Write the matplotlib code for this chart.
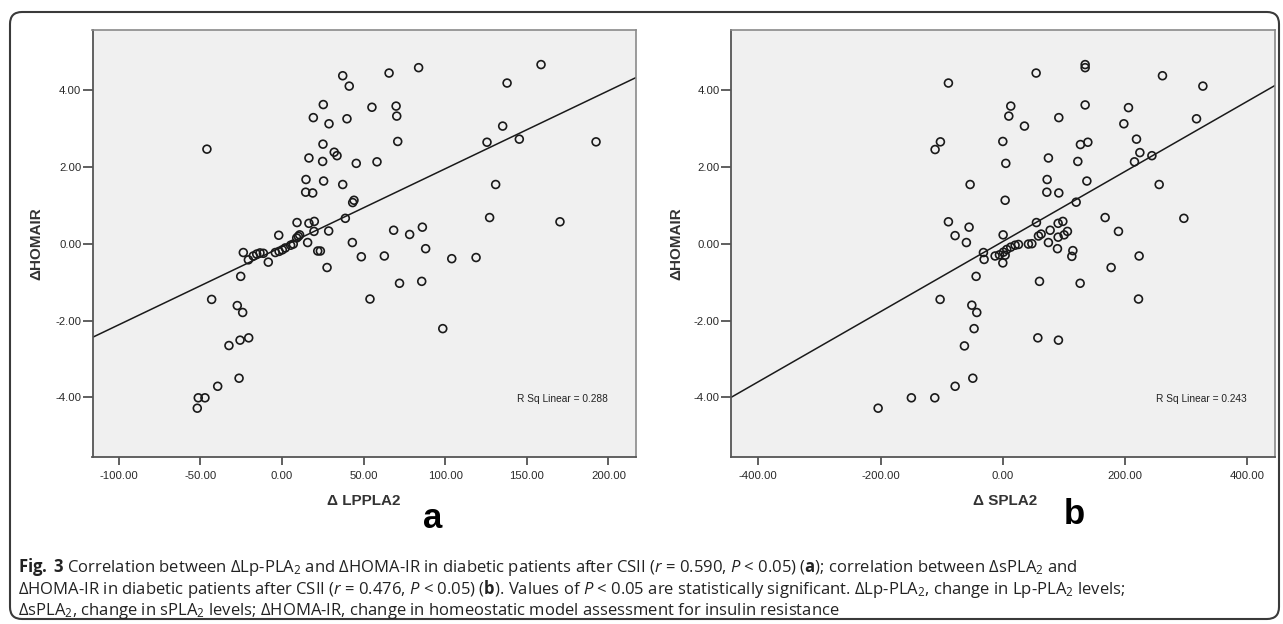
import matplotlib
matplotlib.use("Agg")
import matplotlib.pyplot as plt
from matplotlib.patches import FancyBboxPatch

plt.rcParams['font.family'] = ['Liberation Sans', 'DejaVu Sans']
plt.rcParams['axes.unicode_minus'] = False
plt.rcParams['mathtext.fontset'] = 'custom'
plt.rcParams['mathtext.rm'] = 'Open Sans'
plt.rcParams['mathtext.it'] = 'Open Sans:italic'
plt.rcParams['mathtext.bf'] = 'Open Sans:bold'

# panel a: change in Lp-PLA2 vs change in HOMA-IR
lp_x = [-46, 37.2, 41.2, 65.6, 25.3, 19.2, 28.8, 39.8, 55.1, 69.9, 70.3, 70.9, 25.1, 32.0, 33.7,
        16.5, 24.9, 45.5, 58.2, 14.7, 25.5, 37.2, 14.5, 18.8, 43.3, 44.1, 38.8, 9.2, 16.5, 19.8,
        19.6, 28.6, 68.4, -2.0, 10.8, 10.0, 9.0, 6.9, 5.3, 2.0, 0.2, -1.8, -4.1, 15.7, 21.9,
        23.5, 43.1, 48.6, 62.7, 27.6, -8.4, -23.7, -20.6, -17.6, -15.5, -13.5, -11.4, -25.3, 72.0,
        -43.1, -27.4, -24.1, 53.9, -20.4, -25.7, -32.5, -26.3, -39.4, -51.3, -47.2, -51.9, 83.7,
        158.7, 137.9, 135.2, 125.6, 145.4, 192.4, 130.9, 127.2, 170.3, 78.2, 86.0, 88.0, 104.0,
        118.9, 85.6, 98.5]
lp_y = [2.46, 4.37, 4.10, 4.44, 3.62, 3.28, 3.12, 3.25, 3.55, 3.58, 3.32, 2.66, 2.59, 2.38, 2.29,
        2.23, 2.14, 2.09, 2.13, 1.67, 1.63, 1.54, 1.34, 1.32, 1.07, 1.13, 0.66, 0.55, 0.53, 0.58,
        0.32, 0.33, 0.35, 0.22, 0.23, 0.19, 0.15, -0.01, -0.04, -0.11, -0.16, -0.20, -0.23, 0.03, -0.19,
        -0.19, 0.03, -0.34, -0.32, -0.62, -0.48, -0.23, -0.42, -0.32, -0.27, -0.24, -0.25, -0.85, -1.03,
        -1.45, -1.61, -1.79, -1.44, -2.45, -2.51, -2.65, -3.50, -3.71, -4.01, -4.01, -4.28, 4.58,
        4.66, 4.18, 3.06, 2.64, 2.72, 2.65, 1.54, 0.68, 0.57, 0.24, 0.43, -0.13, -0.39,
        -0.36, -0.98, -2.21]

# panel b: change in sPLA2 vs change in HOMA-IR
s_x = [-89, -102.1, -110.8, -53.5, -89, -55.2, -78.1, -59.6, -31.7, -30.6, -43.7, -102.6, -50.7,
       -42.6, -47, -62.8, -49.1, -78, -111.3, -149.6, -204, 54.5, 134.7, 134.7, 261.2, 327.3, 13,
       9.8, 35.4, 91.6, 134.7, 205.6, 198, 316.9, 0, 127, 139.1, 218.7, 224.2, 243.9, 215.4, 4.9,
       74.6, 122.7, 72.5, 72, 91.6, 137.5, 255.8, 3.8, 120, 167.4, 296.2, 189.2, 55, 90.5, 98.2,
       77.4, 105.7, 100.3, 90.5, 74.6, 89.4, 62.7, 58.3, 0.5, 41.9, 47.5, 25.6, 20.1, 13, 6.5, 1,
       -5.5, -12.6, 0, 3.8, 114.6, 112.9, 223, 177.2, 60, 126.5, 222, 57.3, 91]
s_y = [4.18, 2.65, 2.45, 1.54, 0.57, 0.43, 0.21, 0.03, -0.23, -0.41, -0.85, -1.45, -1.60,
       -1.79, -2.21, -2.66, -3.50, -3.71, -4.01, -4.01, -4.28, 4.44, 4.66, 4.58, 4.37, 4.10, 3.58,
       3.32, 3.06, 3.28, 3.61, 3.54, 3.12, 3.25, 2.66, 2.58, 2.64, 2.72, 2.37, 2.29, 2.13, 2.09,
       2.23, 2.14, 1.67, 1.34, 1.32, 1.63, 1.54, 1.13, 1.08, 0.68, 0.66, 0.32, 0.55, 0.53, 0.58,
       0.35, 0.32, 0.23, 0.17, 0.03, -0.13, 0.25, 0.20, 0.23, -0.01, 0.00, -0.02, -0.04, -0.09, -0.15, -0.22,
       -0.29, -0.32, -0.50, -0.30, -0.18, -0.33, -0.32, -0.62, -0.98, -1.03, -1.44, -2.45, -2.51]

# fit lines (intercept, slope) and R squared as printed on the chart
fit_a = (-0.08, 0.0203)
fit_b = (0.056, 0.00912)
rsq_a = 0.288
rsq_b = 0.243

y_ticks = [-4, -2, 0, 2, 4]
x_ticks_a = [-100, -50, 0, 50, 100, 150, 200]
x_ticks_b = [-400, -200, 0, 200, 400]

W, H = 1283, 624
fig = plt.figure(figsize=(W / 100, H / 100), dpi=100)

# outer rounded frame
frame = FancyBboxPatch((10, 5), 1269, 607, boxstyle="round,pad=0,rounding_size=12",
                       transform=None, fill=False, edgecolor='#3a3a3a', linewidth=1.5)
fig.patches.append(frame)


def panel(rect, xs, ys, fit, rsq, xlim, xticks, xlabel):
    ax = fig.add_axes(rect)
    ax.set_facecolor('#f0f0f0')
    ax.scatter(xs, ys, s=32, facecolors='none', edgecolors='#1a1a1a', linewidths=1.2, zorder=3)
    ax.axline((0, fit[0]), slope=fit[1], color='#1a1a1a', lw=1.1, zorder=2)
    ax.set_xlim(xlim)
    ax.set_ylim(-5.55, 5.56)
    ax.set_xticks(xticks)
    ax.set_yticks(y_ticks)
    ax.xaxis.set_major_formatter('{x:.2f}')
    ax.yaxis.set_major_formatter('{x:.2f}')
    ax.tick_params(axis='y', length=7, width=1.2, color='#444444', labelsize=8.2,
                   labelcolor='#2a2a2a', pad=1)
    ax.tick_params(axis='x', length=6, width=1.2, color='#444444', labelsize=8.2,
                   labelcolor='#2a2a2a', pad=4)
    for side in ['left', 'bottom']:
        ax.spines[side].set_color('#555555')
        ax.spines[side].set_linewidth(1.3)
    for side in ['top', 'right']:
        ax.spines[side].set_color('#8a8a8a')
        ax.spines[side].set_linewidth(1.2)
    ax.set_ylabel('ΔHOMAIR', fontsize=11, fontweight='bold', color='#333333')
    ax.set_xlabel(xlabel, fontsize=11, fontweight='bold', color='#333333')
    ax.text(0.865, 0.136, 'R Sq Linear = %.3f' % rsq, transform=ax.transAxes,
            ha='center', va='center', fontsize=7.3, color='#222222')
    return ax


ax1 = panel([92.5 / W, 1 - 457 / H, 543.2 / W, 427 / H], lp_x, lp_y, fit_a, rsq_a,
            (-116.1, 216.7), x_ticks_a, 'Δ LPPLA2')
ax1.yaxis.set_label_coords(-0.091, 0.5)
ax1.xaxis.set_label_coords(0.5, -0.087)

ax2 = panel([731 / W, 1 - 457 / H, 544 / W, 427 / H], s_x, s_y, fit_b, rsq_b,
            (-444.7, 445.3), x_ticks_b, 'Δ SPLA2')
ax2.yaxis.set_label_coords(-0.088, 0.5)
ax2.xaxis.set_label_coords(0.504, -0.087)

fig.text(433 / W, 1 - 518 / H, 'a', fontsize=25, fontweight='bold', ha='center', va='center')
fig.text(1074 / W, 1 - 515 / H, 'b', fontsize=25, fontweight='bold', ha='center', va='center')

cap1 = (r'$\mathbf{Fig.}$ $\mathbf{3}$ Correlation between ΔLp-PLA$_2$ and ΔHOMA-IR in diabetic patients after CSII '
        r'($r$ = 0.590, $P$ < 0.05) ($\mathbf{a}$); correlation between ΔsPLA$_2$ and')
cap2 = (r'ΔHOMA-IR in diabetic patients after CSII ($r$ = 0.476, $P$ < 0.05) ($\mathbf{b}$). '
        r'Values of $P$ < 0.05 are statistically significant. ΔLp-PLA$_2$, change in Lp-PLA$_2$ levels;')
cap3 = (r'ΔsPLA$_2$, change in sPLA$_2$ levels; ΔHOMA-IR, change in homeostatic model assessment '
        r'for insulin resistance')
for txt, yy in [(cap1, 567), (cap2, 589), (cap3, 611)]:
    fig.text(18 / W, 1 - yy / H, txt, fontsize=12, family='Open Sans', color='#222222',
             ha='left', va='center')

fig.savefig('out.png', dpi=100)
